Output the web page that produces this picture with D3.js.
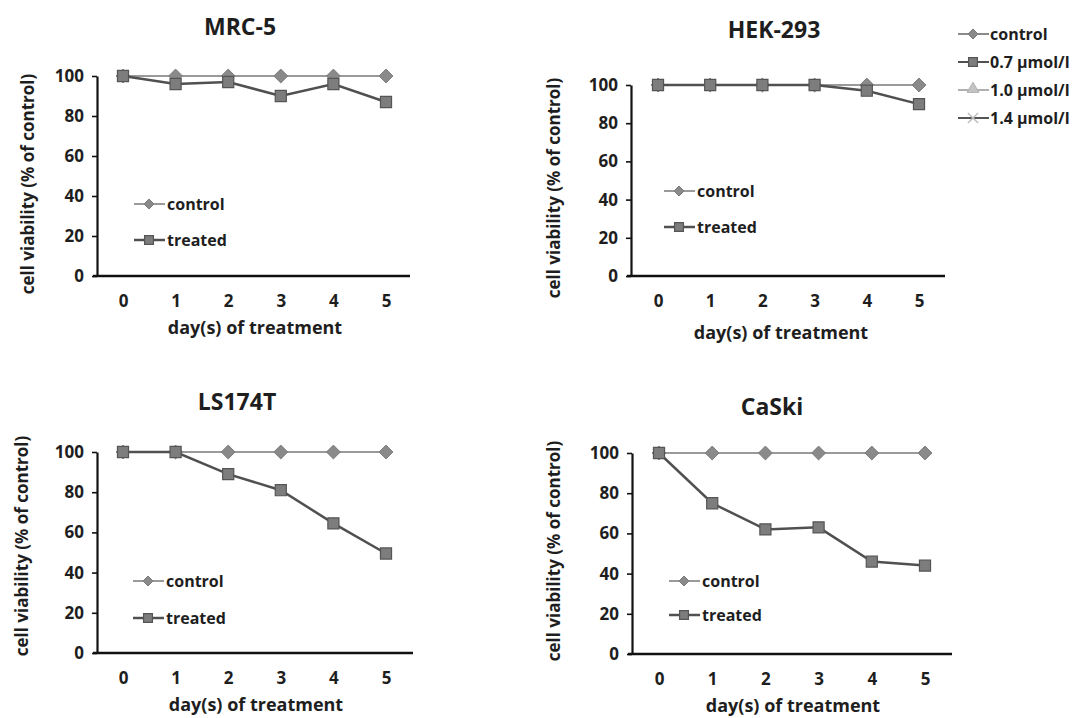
<!DOCTYPE html>
<html>
<head>
<meta charset="utf-8">
<title>Cell viability</title>
<script src="https://d3js.org/d3.v7.min.js"></script>
<style>
  html, body { margin: 0; padding: 0; background: #fff; }
  svg { display: block; font-family: "Open Sans", Lato, sans-serif; font-weight: 700; }
  .tick text { fill: #1e1e1e; font-size: 17px; font-weight: 700; font-family: "Open Sans", sans-serif; }
  .title { font-size: 23px; fill: #1e1e1e; text-anchor: middle; }
  .axis-title { font-size: 18px; fill: #1e1e1e; text-anchor: middle; }
  .legend-text { font-size: 16px; fill: #1e1e1e; }
  .control-line { stroke: #9a9a9a; stroke-width: 2px; fill: none; }
  .treated-line { stroke: #505050; stroke-width: 2.5px; fill: none; }
</style>
</head>
<body>
<svg width="1077" height="718"></svg>
<script>
// data
const days = [0, 1, 2, 3, 4, 5];
const yTicks = [0, 20, 40, 60, 80, 100];
const cellLines = ['MRC-5', 'HEK-293', 'LS174T', 'CaSki'];
const controlValues = [
  [100, 100, 100, 100, 100, 100],
  [100, 100, 100, 100, 100, 100],
  [100, 100, 100, 100, 100, 100],
  [100, 100, 100, 100, 100, 100]
];
const treatedValues = [
  [100, 96, 97, 90, 96, 87],
  [100, 100, 100, 100, 97, 90],
  [100, 100, 89, 81, 64.5, 49.5],
  [100, 75, 62, 63, 46, 44]
];
const seriesNames = ['control', 'treated'];
const doseLegend = ['control', '0.7 \u00b5mol/l', '1.0 \u00b5mol/l', '1.4 \u00b5mol/l'];

// layout of each panel
const panels = [
  { axisX: 97, x0: 123, x5: 386, axisEnd: 410, yTop: 76, yBottom: 276,
    titleX: 240, titleY: 35, yTitleX: 27, yTitleY: 184, xTitleX: 255, xTitleY: 334,
    legX: 134, legY: [204, 240] },
  { axisX: 631, x0: 658, x5: 919, axisEnd: 945, yTop: 85, yBottom: 276,
    titleX: 774, titleY: 38, yTitleX: 553, yTitleY: 188, xTitleX: 781, xTitleY: 339,
    legX: 664, legY: [191, 227] },
  { axisX: 97, x0: 123, x5: 386, axisEnd: 413, yTop: 452, yBottom: 653,
    titleX: 237, titleY: 410, yTitleX: 21, yTitleY: 546, xTitleX: 256, xTitleY: 711,
    legX: 133, legY: [581, 618] },
  { axisX: 632, x0: 659, x5: 925, axisEnd: 952, yTop: 453, yBottom: 654,
    titleX: 772, titleY: 415, yTitleX: 553, yTitleY: 551, xTitleX: 793, xTitleY: 712,
    legX: 669, legY: [581, 615] }
];

const svg = d3.select('svg');
const diamond = d3.symbol().type(d3.symbolDiamond2);
const square = d3.symbol().type(d3.symbolSquare2);

function drawMarker(g, kind, x, y, size) {
  if (kind === 'control') {
    g.append('path')
      .attr('d', diamond.size(size * size)())
      .attr('transform', `translate(${x},${y})`)
      .attr('fill', '#8a8a8a').attr('stroke', '#7a7a7a').attr('stroke-width', 1);
  } else {
    g.append('path')
      .attr('d', square.size(size * size)())
      .attr('transform', `translate(${x},${y})`)
      .attr('fill', '#7d7d7d').attr('stroke', '#555').attr('stroke-width', 1.2);
  }
}

panels.forEach((p, i) => {
  const g = svg.append('g');
  const x = d3.scaleLinear().domain([0, 5]).range([p.x0, p.x5]);
  const y = d3.scaleLinear().domain([0, 100]).range([p.yBottom, p.yTop]);

  // y axis
  const yAxis = g.append('g')
    .attr('transform', `translate(${p.axisX},0)`)
    .call(d3.axisLeft(y).tickValues(yTicks).tickSize(5).tickSizeOuter(0).tickPadding(8));
  yAxis.select('.domain').attr('stroke', '#111').attr('stroke-width', 2.2);
  yAxis.selectAll('.tick line').attr('stroke', '#111').attr('stroke-width', 1.6);

  // x axis (labels only, line drawn across the full plot)
  const xAxis = g.append('g')
    .attr('transform', `translate(0,${y(0)})`)
    .call(d3.axisBottom(x).tickValues(days).tickSize(0).tickFormat(d3.format('d')));
  xAxis.select('.domain').remove();
  xAxis.selectAll('.tick text').attr('y', 24).attr('dy', null).attr('dominant-baseline', 'central');
  g.append('line')
    .attr('x1', p.axisX - 4).attr('x2', p.axisEnd)
    .attr('y1', y(0)).attr('y2', y(0))
    .attr('stroke', '#111').attr('stroke-width', 2.6);

  // titles
  g.append('text').attr('class', 'title').attr('x', p.titleX).attr('y', p.titleY).text(cellLines[i]);
  g.append('text').attr('class', 'axis-title').attr('x', p.xTitleX).attr('y', p.xTitleY).text('day(s) of treatment');
  g.append('text').attr('class', 'axis-title').style('font-size', '17px')
    .attr('transform', `translate(${p.yTitleX},${p.yTitleY}) rotate(-90)`)
    .attr('dominant-baseline', 'central')
    .text('cell viability (% of control)');

  // series
  const line = d3.line().x((d, j) => x(days[j])).y(d => y(d));
  g.append('path').attr('class', 'control-line').attr('d', line(controlValues[i]));
  controlValues[i].forEach((v, j) => drawMarker(g, 'control', x(days[j]), y(v), 11));
  g.append('path').attr('class', 'treated-line').attr('d', line(treatedValues[i]));
  treatedValues[i].forEach((v, j) => drawMarker(g, 'treated', x(days[j]), y(v), 12.5));

  // inner legend
  seriesNames.forEach((name, k) => {
    const ly = p.legY[k];
    g.append('line').attr('class', k === 0 ? 'control-line' : 'treated-line')
      .attr('x1', p.legX).attr('x2', p.legX + 31).attr('y1', ly).attr('y2', ly);
    drawMarker(g, name, p.legX + 15, ly, k === 0 ? 8 : 10);
    g.append('text').attr('class', 'legend-text')
      .attr('x', p.legX + 33).attr('y', ly).attr('dominant-baseline', 'central')
      .text(name);
  });
});

// dose legend, top right
const leg = svg.append('g');
const legRows = [34, 62, 90, 118];
const legLine = ['#8a8a8a', '#505050', '#b0b0b0', '#555'];
doseLegend.forEach((label, k) => {
  const ly = legRows[k], lx = 958;
  leg.append('line').attr('x1', lx).attr('x2', lx + 31).attr('y1', ly).attr('y2', ly)
    .attr('stroke', legLine[k]).attr('stroke-width', 2);
  const cx = lx + 15;
  if (k === 0) drawMarker(leg, 'control', cx, ly, 8);
  if (k === 1) drawMarker(leg, 'treated', cx, ly, 10);
  if (k === 2) {
    leg.append('path').attr('d', d3.symbol().type(d3.symbolTriangle).size(60)())
      .attr('transform', `translate(${cx},${ly - 1})`)
      .attr('fill', '#c4c4c4').attr('stroke', '#b0b0b0');
  }
  if (k === 3) {
    leg.append('path').attr('d', d3.symbol().type(d3.symbolTimes).size(70)())
      .attr('transform', `translate(${cx},${ly})`)
      .attr('fill', 'none').attr('stroke', '#bdbdbd').attr('stroke-width', 1.4);
  }
  leg.append('text').attr('class', 'legend-text').style('font-size', '16px')
    .attr('x', lx + 32).attr('y', ly).attr('dominant-baseline', 'central')
    .text(label);
});
</script>
</body>
</html>
